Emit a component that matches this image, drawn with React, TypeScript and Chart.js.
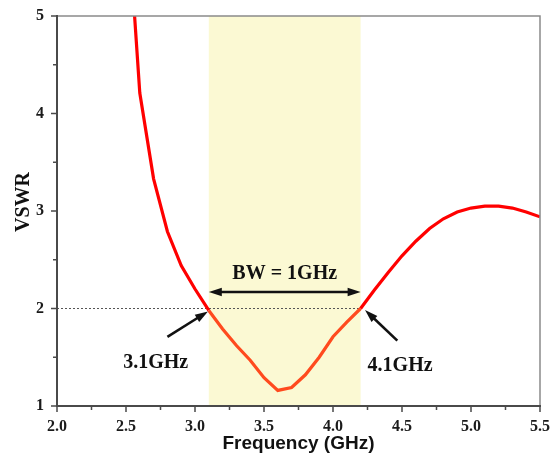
import { useEffect, useRef } from 'react';
import { Chart, registerables } from 'chart.js';

Chart.register(...registerables);

// ---- data ----
const frequencyGHz = [2.5, 2.6, 2.7, 2.8, 2.9, 3.0, 3.1, 3.2, 3.3, 3.4, 3.5, 3.6, 3.7, 3.8, 3.9, 4.0, 4.1, 4.2, 4.3, 4.4, 4.5, 4.6, 4.7, 4.8, 4.9, 5.0, 5.1, 5.2, 5.3, 5.4, 5.5];
const vswrValues = [6.3, 4.21, 3.33, 2.79, 2.44, 2.2, 1.98, 1.79, 1.62, 1.47, 1.29, 1.16, 1.19, 1.32, 1.5, 1.71, 1.86, 2.0, 2.19, 2.37, 2.54, 2.69, 2.82, 2.92, 2.99, 3.03, 3.05, 3.05, 3.03, 2.99, 2.94];
const bandEdges = [3.1, 4.2];
const referenceLevel = 2;
const xRange = [2.0, 5.5];
const yRange = [1, 5];
const xMajorTicks = [2.0, 2.5, 3.0, 3.5, 4.0, 4.5, 5.0, 5.5];
const xMinorTicks = [2.25, 2.75, 3.25, 3.75, 4.25, 4.75, 5.25];
const yMajorTicks = [1, 2, 3, 4, 5];
const yMinorTicks = [1.5, 2.5, 3.5, 4.5];
const bwLabel = 'BW = 1GHz';
const lowLabel = '3.1GHz';
const highLabel = '4.1GHz';

// annotation anchors (data coordinates)
const bwArrowLevel = 2.17;
const bwTextAt = [3.65, 2.36];
const lowArrow = [2.8, 1.71, 3.094, 1.97];
const highArrow = [4.466, 1.67, 4.232, 1.985];
const lowTextAt = [2.715, 1.44];
const highTextAt = [4.486, 1.41];

const SERIF = '"Liberation Serif", "Times New Roman", serif';
const SANS = '"Liberation Sans", Arial, sans-serif';

function arrowHead(ctx: CanvasRenderingContext2D, x1: number, y1: number, x2: number, y2: number, len: number, half: number) {
  const a = Math.atan2(y2 - y1, x2 - x1);
  ctx.beginPath();
  ctx.moveTo(x2, y2);
  ctx.lineTo(x2 - len * Math.cos(a) + half * Math.sin(a), y2 - len * Math.sin(a) - half * Math.cos(a));
  ctx.lineTo(x2 - len * Math.cos(a) - half * Math.sin(a), y2 - len * Math.sin(a) + half * Math.cos(a));
  ctx.closePath();
  ctx.fill();
}

function arrow(ctx: CanvasRenderingContext2D, x1: number, y1: number, x2: number, y2: number, both: boolean) {
  const len = 13, half = 4.2;
  const a = Math.atan2(y2 - y1, x2 - x1);
  const sx = both ? x1 + (len - 2) * Math.cos(a) : x1;
  const sy = both ? y1 + (len - 2) * Math.sin(a) : y1;
  const ex = x2 - (len - 2) * Math.cos(a);
  const ey = y2 - (len - 2) * Math.sin(a);
  ctx.beginPath();
  ctx.moveTo(sx, sy);
  ctx.lineTo(ex, ey);
  ctx.stroke();
  arrowHead(ctx, x1, y1, x2, y2, len, half);
  if (both) arrowHead(ctx, x2, y2, x1, y1, len, half);
}

const decor = {
  id: 'decor',
  beforeDatasetsDraw(chart: any) {
    const { ctx, chartArea: ca, scales } = chart;
    const x0 = scales.x.getPixelForValue(bandEdges[0]);
    const x1 = scales.x.getPixelForValue(bandEdges[1]);
    ctx.save();
    ctx.fillStyle = '#fbf9d3';
    ctx.fillRect(x0, ca.top, x1 - x0, ca.bottom - ca.top);
    ctx.restore();
  },
  afterDatasetsDraw(chart: any) {
    const { ctx, chartArea: ca, scales } = chart;
    const sx = scales.x, sy = scales.y;
    ctx.save();
    // frame
    ctx.lineCap = 'butt';
    ctx.strokeStyle = '#8a8a8a';
    ctx.lineWidth = 1.5;
    ctx.beginPath();
    ctx.moveTo(ca.left, ca.top);
    ctx.lineTo(ca.right, ca.top);
    ctx.lineTo(ca.right, ca.bottom);
    ctx.stroke();
    ctx.strokeStyle = '#4a4a4a';
    ctx.lineWidth = 2;
    ctx.beginPath();
    ctx.moveTo(ca.left, ca.top - 1);
    ctx.lineTo(ca.left, ca.bottom);
    ctx.lineTo(ca.right + 1, ca.bottom);
    ctx.stroke();
    // ticks
    ctx.lineWidth = 1.5;
    ctx.beginPath();
    xMajorTicks.forEach((v) => { const p = sx.getPixelForValue(v); ctx.moveTo(p, ca.bottom); ctx.lineTo(p, ca.bottom + 6); });
    xMinorTicks.forEach((v) => { const p = sx.getPixelForValue(v); ctx.moveTo(p, ca.bottom); ctx.lineTo(p, ca.bottom + 4); });
    yMajorTicks.forEach((v) => { const p = sy.getPixelForValue(v); ctx.moveTo(ca.left, p); ctx.lineTo(ca.left - 6, p); });
    yMinorTicks.forEach((v) => { const p = sy.getPixelForValue(v); ctx.moveTo(ca.left, p); ctx.lineTo(ca.left - 4, p); });
    ctx.stroke();

    // arrows
    ctx.strokeStyle = '#111';
    ctx.fillStyle = '#111';
    ctx.lineWidth = 2.6;
    const by = sy.getPixelForValue(bwArrowLevel);
    arrow(ctx, sx.getPixelForValue(bandEdges[0]), by, sx.getPixelForValue(bandEdges[1]), by, true);
    arrow(ctx, sx.getPixelForValue(lowArrow[0]), sy.getPixelForValue(lowArrow[1]), sx.getPixelForValue(lowArrow[2]), sy.getPixelForValue(lowArrow[3]), false);
    arrow(ctx, sx.getPixelForValue(highArrow[0]), sy.getPixelForValue(highArrow[1]), sx.getPixelForValue(highArrow[2]), sy.getPixelForValue(highArrow[3]), false);

    // labels
    ctx.font = `bold 20px ${SERIF}`;
    ctx.textAlign = 'center';
    ctx.textBaseline = 'middle';
    ctx.fillText(bwLabel, sx.getPixelForValue(bwTextAt[0]), sy.getPixelForValue(bwTextAt[1]));
    ctx.fillText(lowLabel, sx.getPixelForValue(lowTextAt[0]), sy.getPixelForValue(lowTextAt[1]));
    ctx.fillText(highLabel, sx.getPixelForValue(highTextAt[0]), sy.getPixelForValue(highTextAt[1]));

    // y axis title
    ctx.translate(23.5, (ca.top + ca.bottom) / 2 - 9);
    ctx.rotate(-Math.PI / 2);
    ctx.font = `bold 20px ${SERIF}`;
    ctx.fillText('VSWR', 0, 0);
    ctx.restore();
  },
};

export default function App() {
  const ref = useRef<HTMLCanvasElement | null>(null);
  useEffect(() => {
    if (!ref.current) return;
    const chart = new Chart(ref.current, {
      type: 'line',
      data: {
        datasets: [
          {
            label: 'VSWR',
            data: frequencyGHz.map((f, i) => ({ x: f, y: vswrValues[i] })),
            borderColor: '#ff0000',
            borderWidth: 3.2,
            pointRadius: 0,
            tension: 0,
            clip: 0,
            segment: {
              borderColor: (c: any) =>
                c.p0.parsed.x >= bandEdges[0] - 1e-9 && c.p1.parsed.x <= bandEdges[1] + 1e-9 ? '#ff4a1e' : '#ff0000',
            },
          } as any,
          {
            label: 'ref',
            data: [
              { x: xRange[0], y: referenceLevel },
              { x: bandEdges[1], y: referenceLevel },
            ],
            borderColor: '#555',
            borderWidth: 1,
            borderDash: [2, 2],
            pointRadius: 0,
          },
        ],
      },
      options: {
        animation: false,
        responsive: false,
        layout: { padding: { left: 0, top: 16, right: 16, bottom: 0 } },
        plugins: { legend: { display: false }, tooltip: { enabled: false } },
        scales: {
          x: {
            type: 'linear',
            min: xRange[0],
            max: xRange[1],
            afterFit: (s: any) => { s.height = 49; s.paddingLeft = 0; s.paddingRight = 0; },
            afterBuildTicks: (s: any) => { s.ticks = xMajorTicks.map((v) => ({ value: v })); },
            grid: { display: false, drawTicks: false },
            border: { display: false },
            ticks: {
              padding: 11,
              color: '#1a1a1a',
              font: { family: SERIF, weight: 'bold', size: 16 },
              callback: (v: any) => Number(v).toFixed(1),
            },
            title: {
              display: true,
              text: 'Frequency (GHz)',
              color: '#111',
              padding: 0,
              font: { family: SANS, weight: 'bold', size: 19 },
            },
          },
          y: {
            type: 'linear',
            min: yRange[0],
            max: yRange[1],
            afterFit: (s: any) => { s.width = 57; s.paddingTop = 0; s.paddingBottom = 0; },
            afterBuildTicks: (s: any) => { s.ticks = yMajorTicks.map((v) => ({ value: v })); },
            grid: { display: false, drawTicks: false },
            border: { display: false },
            ticks: {
              padding: 13,
              color: '#1a1a1a',
              font: { family: SERIF, weight: 'bold', size: 16 },
              callback: (v: any) => String(v),
            },
          },
        },
      },
      plugins: [decor],
    } as any);
    return () => chart.destroy();
  }, []);
  return (
    <div style={{ position: 'fixed', left: 0, top: 0, width: 556, height: 455, background: '#fff' }}>
      <canvas ref={ref} width={556} height={455} />
    </div>
  );
}
